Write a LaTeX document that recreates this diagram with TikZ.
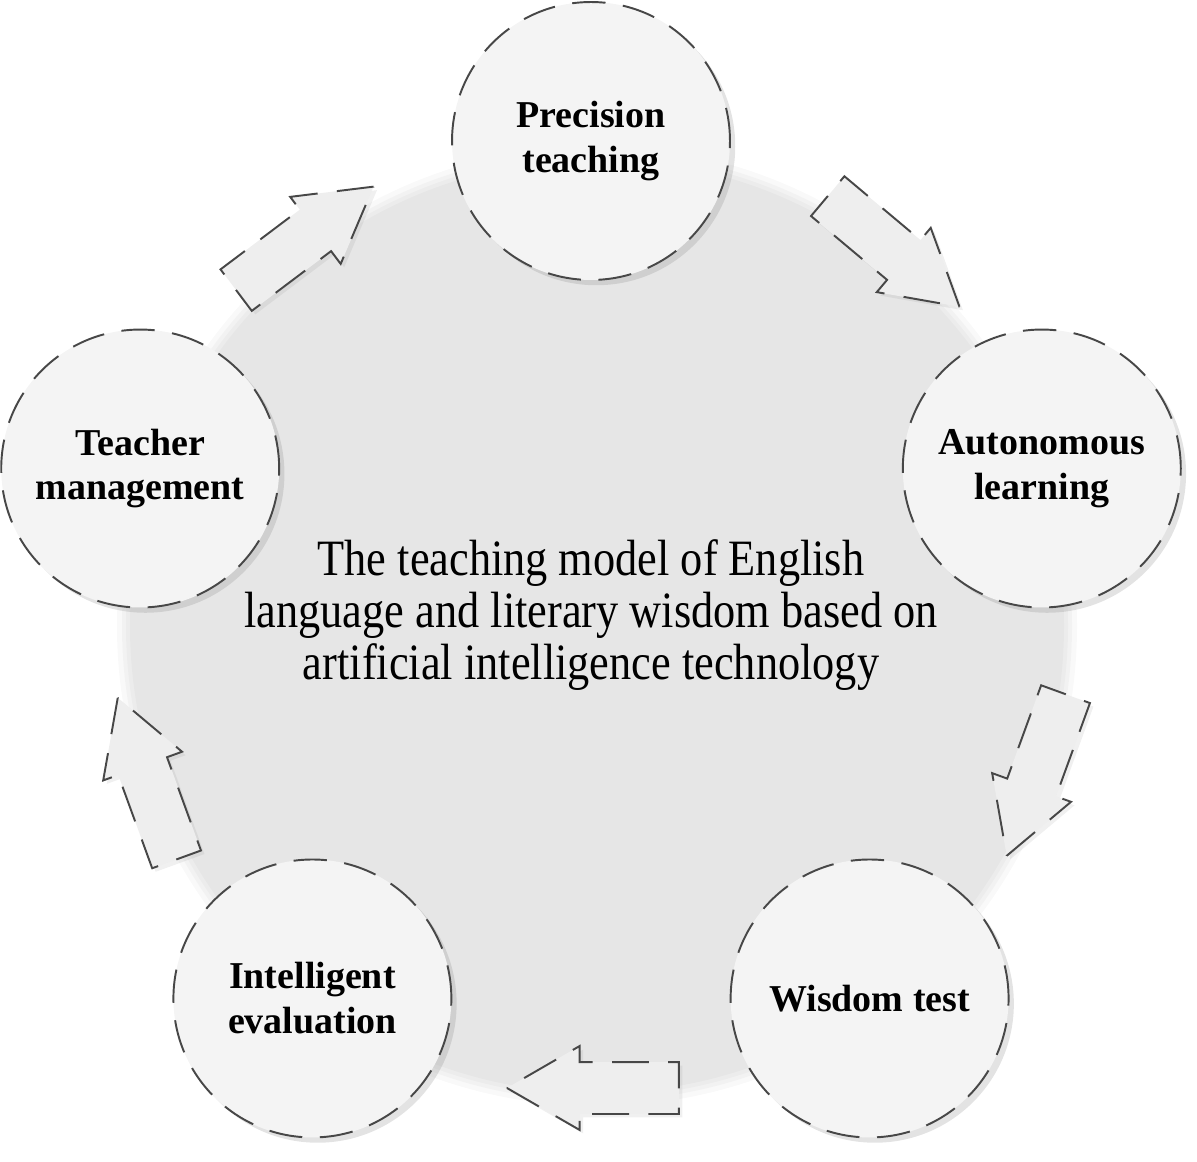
\documentclass[tikz,border=0pt]{standalone}
\usepackage{fontspec}
\setmainfont{Liberation Serif}
\newfontfamily\titlefont{Liberation Serif}[FakeStretch=0.87]
\usetikzlibrary{shapes.arrows,shadows}
\definecolor{discfill}{HTML}{F4F4F4}
\definecolor{bgdisc}{HTML}{E6E6E6}
\definecolor{dashline}{HTML}{474747}
\definecolor{arrowfill}{HTML}{EEEEEE}
\begin{document}
\begin{tikzpicture}[x=0.02cm,y=0.02cm,
    stage/.style={circle,draw=dashline,fill=discfill,line width=1.1pt,dash pattern=on 19pt off 10pt,
      minimum size=5.56cm,inner sep=0pt,align=center,font=\bfseries\fontsize{21.6}{25.6}\selectfont,
      drop shadow={shadow xshift=3pt,shadow yshift=-3pt,opacity=0.22}},
    flow/.style={single arrow,draw=dashline,fill=arrowfill,line width=1.1pt,dash pattern=on 21pt off 11pt,
      minimum height=3.44cm,minimum width=1.64cm,single arrow head extend=0.32cm,single arrow tip angle=60,
      inner xsep=0pt,inner ysep=0.5cm,anchor=tip,drop shadow={shadow xshift=2pt,shadow yshift=-2pt,opacity=0.12}},
    model/.style={align=center,font=\titlefont\fontsize{29}{29.6}\selectfont}]
  \useasboundingbox (0,0) rectangle (1197,1161);
  \coordinate (c) at (591,546);
  \coordinate (bg) at (597,535);
  \foreach \r/\o in {480/0.25,475/0.35,471/0.5}
    \fill[bgdisc,opacity=\o] (bg) circle (\r);
  \fill[bgdisc] (bg) circle (467);
  \node[model] (title) at (c) {The teaching model of English\\language and literary wisdom based on\\artificial intelligence technology};
  \foreach \a/\n in {50/flowa,-20/flowb,-90/flowc,-160/flowd,127/flowe}
    \node[flow,rotate=\a-90] (\n) at ([shift={(\a:473)},shift={(\a-90:86)}]c) {};
  \foreach \a/\n/\t in {90/prec/{Precision\\teaching},18/auto/{Autonomous\\learning},-54/wis/{Wisdom test},
      -126/intel/{Intelligent\\evaluation},162/teach/{Teacher\\management}}
    \node[stage] (\n) at ([shift={(\a:474)}]c) {\t};
\end{tikzpicture}
\end{document}
